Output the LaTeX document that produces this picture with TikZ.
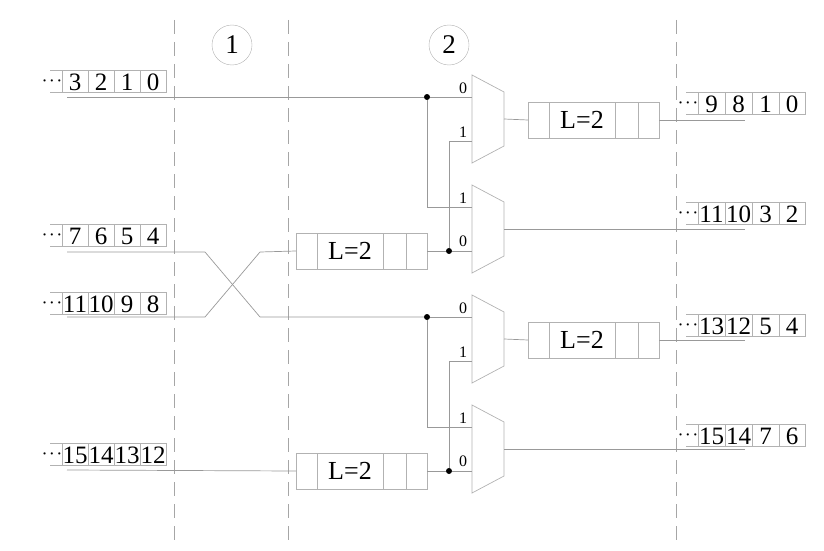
\documentclass[tikz,border=0pt]{standalone}
\usepackage{fontspec}
\setmainfont{Liberation Serif}
\begin{document}
\begin{tikzpicture}[x=1pt,y=-1pt,
  ln/.style={gray!80,line width=0.7pt},
  cell/.style={draw=gray!60,line width=0.7pt},
  vdash/.style={gray!70,line width=0.6pt,dash pattern=on 14pt off 8pt},
  dig/.style={font=\fontsize{25}{25}\selectfont,inner sep=0pt},
  lab/.style={font=\fontsize{16}{16}\selectfont,inner sep=0pt},
  dots/.style={inner sep=0pt,font=\fontsize{14}{14}\selectfont\boldmath},
  dot/.style={circle,fill=black,inner sep=0pt,minimum size=6pt}]
\useasboundingbox (0,0) rectangle (824,551);
\foreach \x in {174,288,676} \draw[vdash] (\x,20) -- (\x,545);
\node[draw=gray!60,circle,minimum size=40pt,inner sep=0pt,font=\fontsize{27}{27}\selectfont] (c1) at (232,45) {1};
\node[draw=gray!60,circle,minimum size=40pt,inner sep=0pt,font=\fontsize{27}{27}\selectfont] (c2) at (449,45) {2};
% input registers
\foreach \y/\a/\b/\c/\d [count=\i] in {70/3/2/1/0, 224/7/6/5/4, 292/11/10/9/8, 443/15/14/13/12}{
  \draw[cell] (50,\y) -- (166,\y) -- (166,\y+22) -- (50,\y+22);
  \foreach \xx in {62,88,114,140} \draw[cell] (\xx,\y) -- (\xx,\y+22);
  \node[dots] at (52,\y+11) {$\cdots$};
  \node[dig] at (75,\y+12) {\a}; \node[dig] at (101,\y+12) {\b};
  \node[dig] at (127,\y+12) {\c}; \node[dig] at (153,\y+12) {\d};
}
% output registers
\foreach \y/\a/\b/\c/\d in {92/9/8/1/0, 202/11/10/3/2, 314/13/12/5/4, 424/15/14/7/6}{
  \draw[cell] (686,\y) -- (805,\y) -- (805,\y+22) -- (686,\y+22);
  \foreach \xx in {698,725,752,779} \draw[cell] (\xx,\y) -- (\xx,\y+22);
  \node[dots] at (688,\y+11) {$\cdots$};
  \node[dig] at (711.5,\y+12) {\a}; \node[dig] at (738.5,\y+12) {\b};
  \node[dig] at (765.5,\y+12) {\c}; \node[dig] at (792,\y+12) {\d};
}
% L=2 boxes
\foreach \x/\y/\nm in {296/233/la, 296/453/lb, 528/102/lc, 528/322/ld}{
  \draw[cell] (\x,\y) rectangle (\x+131,\y+36);
  \foreach \dx in {21,87,110} \draw[cell] (\x+\dx,\y) -- (\x+\dx,\y+36);
  \node[dig,font=\fontsize{26}{26}\selectfont] at (\x+54,\y+18) {L=2};
  \coordinate (\nm-in) at (\x,\y+18); \coordinate (\nm-out) at (\x+131,\y+18);
}
% muxes
\foreach \oy/\s in {0/a,220/b}{
  \begin{scope}[yshift=-\oy pt]
  \draw[cell] (472,75) -- (504,92) -- (504,146) -- (472,163) -- cycle;
  \draw[cell] (472,185) -- (504,202) -- (504,256) -- (472,273) -- cycle;
  \node[lab] at (463,88) {0}; \node[lab] at (463,132) {1};
  \node[lab] at (463,198) {1}; \node[lab] at (463,241) {0};
  \node[dot] (d1\s) at (427,97) {}; \node[dot] (d2\s) at (449,251) {};
  \coordinate (m1o\s) at (504,119); \coordinate (m2o\s) at (504,229);
  \draw[ln] (d1\s) -- (472,97); \draw[ln] (d1\s) |- (472,207);
  \draw[ln] (d2\s) -- (472,251); \draw[ln] (d2\s) |- (472,141);
  \end{scope}
}
% input wiring
\draw[ln] (67,97) -- (d1a);
\draw[ln] (67,252) -- (205,252) -- (260,317) -- (d1b);
\draw[ln] (67,317) -- (205,317) -- (260,252) -- (la-in);
\draw[ln] (67,470) -- (lb-in);
\draw[ln] (la-out) -- (d2a); \draw[ln] (lb-out) -- (d2b);
% outputs
\draw[ln] (m1oa) -- (lc-in); \draw[ln] (lc-out) -- (745,120);
\draw[ln] (m2oa) -- (745,229);
\draw[ln] (m1ob) -- (ld-in); \draw[ln] (ld-out) -- (745,340);
\draw[ln] (m2ob) -- (745,449);
\end{tikzpicture}
\end{document}
